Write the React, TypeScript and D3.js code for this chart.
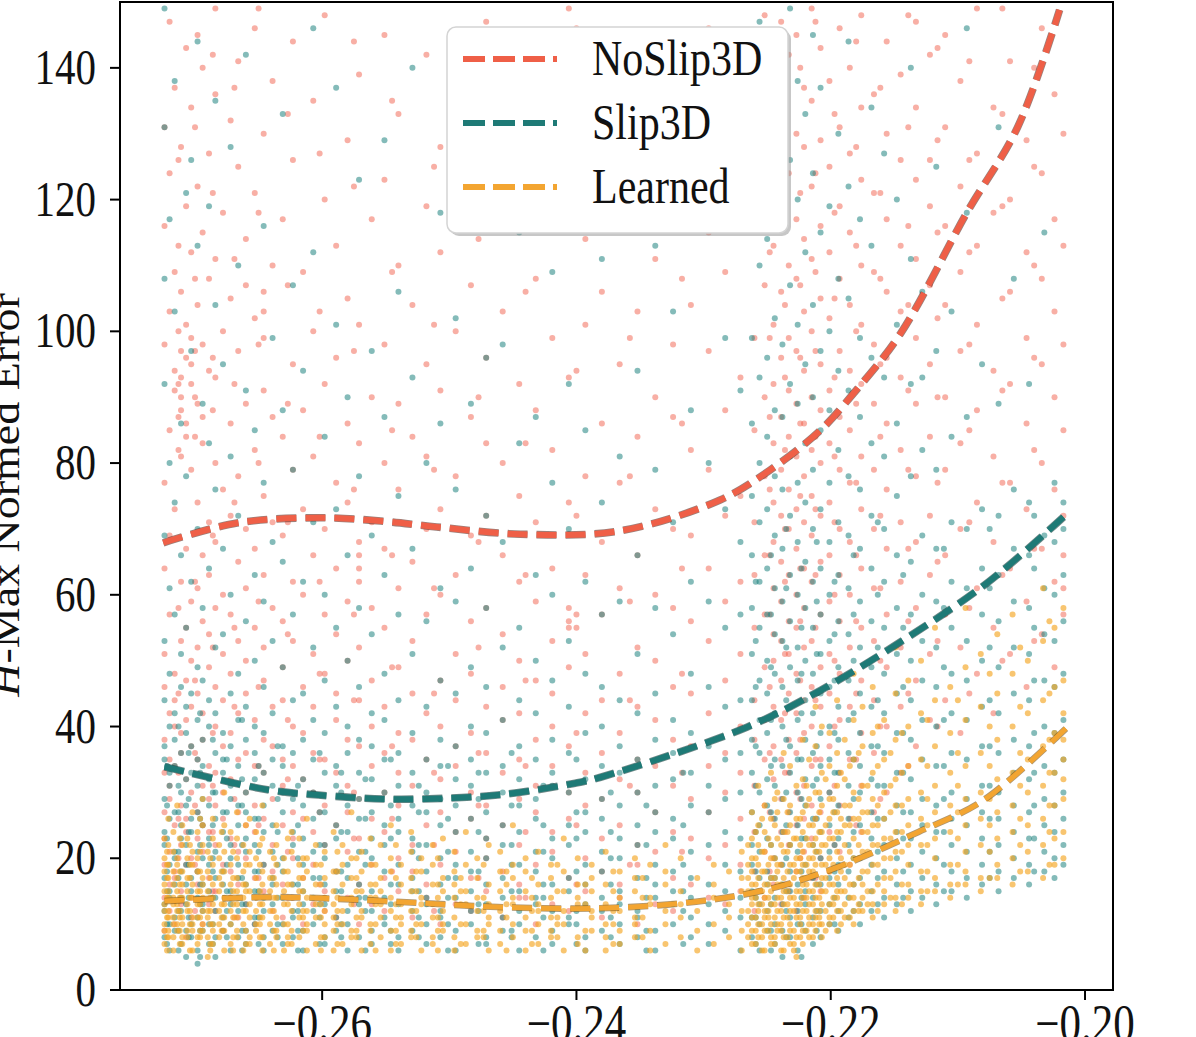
import * as d3 from 'd3';

// ---- axes / ticks ----
const xDomain: [number, number] = [-0.2759, -0.1978];
const yDomain: [number, number] = [0, 150];
const xTicks = [-0.26, -0.24, -0.22, -0.2];
const xTickLabels = ['\u22120.26', '\u22120.24', '\u22120.22', '\u22120.20'];
const yTicks = [0, 20, 40, 60, 80, 100, 120, 140];

// ---- polynomial fit curves ----
const noSlipFitX = [-0.2725, -0.2667, -0.2602, -0.2554, -0.251, -0.2444, -0.2366, -0.2287, -0.2248, -0.2208, -0.2182, -0.2145, -0.2093, -0.2053, -0.202];
const noSlipFitY = [67.9, 70.9, 71.7, 71.2, 70.3, 69.2, 69.7, 74.4, 78.9, 85.0, 90.6, 99.7, 118, 131, 148.8];
const slipFitX = [-0.2724, -0.2643, -0.2603, -0.2552, -0.2522, -0.2462, -0.2401, -0.2381, -0.2266, -0.2208, -0.2143, -0.2077, -0.2017];
const slipFitY = [33.9, 30.4, 29.6, 29.0, 29.0, 29.6, 31.4, 32.3, 39.9, 45.5, 53.1, 61.8, 71.8];
const learnedFitX = [-0.2724, -0.2643, -0.2583, -0.2522, -0.2462, -0.2383, -0.2306, -0.2249, -0.2194, -0.2131, -0.208, -0.2014];
const learnedFitY = [13.5, 14.1, 13.8, 13.2, 12.6, 12.4, 13.4, 15.3, 18.7, 24.0, 28.8, 39.9];

// ---- scatter points: [x, y values at that x] ----
const noSlipPts: [number, number[]][] = [
  [-0.2724, [9, 14, 19, 23, 27, 33, 38, 46, 51, 64, 77, 98, 116, 131]],
  [-0.272, [12, 16, 21, 29, 31, 35, 42, 57, 69, 85, 103, 124, 147]],
  [-0.2716, [10, 17, 18, 25, 34, 40, 44, 48, 73, 91, 94, 109, 137]],
  [-0.2713, [20, 26, 33, 45, 58, 82, 87, 92, 100, 113, 126]],
  [-0.2711, [13, 15, 22, 28, 36, 39, 53, 62, 81, 88, 90, 93, 97, 106, 128]],
  [-0.2707, [8, 19, 24, 26, 32, 41, 47, 55, 67, 84, 86, 96, 101, 119, 143]],
  [-0.2703, [11, 14, 20, 30, 37, 43, 50, 59, 79, 92, 95, 99, 112, 134]],
  [-0.27, [12, 19, 28, 36, 47, 62, 84, 90, 97, 108, 131]],
  [-0.2698, [16, 18, 23, 27, 35, 45, 52, 61, 74, 89, 104, 122, 145]],
  [-0.2694, [10, 21, 25, 31, 38, 42, 56, 66, 83, 87, 98, 115, 140]],
  [-0.2689, [13, 17, 24, 29, 34, 49, 54, 63, 71, 94, 108, 127]],
  [-0.2686, [15, 24, 31, 39, 52, 69, 88, 96, 121, 142]],
  [-0.2684, [12, 15, 22, 28, 33, 40, 46, 58, 68, 80, 93, 111, 136, 149]],
  [-0.2678, [9, 19, 26, 30, 37, 44, 51, 60, 76, 100, 118]],
  [-0.2672, [14, 18, 23, 32, 39, 48, 57, 72, 86, 105, 132]],
  [-0.2669, [11, 22, 29, 43, 55, 74, 92, 111, 137]],
  [-0.2666, [11, 16, 21, 27, 35, 42, 53, 65, 78, 97, 125, 141]],
  [-0.266, [13, 20, 25, 30, 36, 45, 50, 61, 70, 89, 107, 114]],
  [-0.2653, [10, 17, 24, 28, 34, 41, 55, 67, 82, 102, 121, 146]],
  [-0.265, [17, 25, 34, 46, 59, 80, 98, 118, 149]],
  [-0.2646, [15, 19, 26, 33, 38, 47, 52, 63, 75, 91, 99, 103, 106, 130]],
  [-0.2639, [12, 18, 22, 29, 37, 43, 58, 71, 87, 110, 138]],
  [-0.2631, [11, 16, 25, 31, 35, 44, 49, 56, 69, 84, 117]],
  [-0.2627, [14, 21, 32, 41, 54, 71, 89, 107, 133]],
  [-0.2623, [14, 20, 23, 27, 34, 40, 53, 62, 79, 95, 126, 144]],
  [-0.2615, [10, 17, 26, 32, 39, 46, 60, 73, 88, 109]],
  [-0.2607, [13, 19, 24, 30, 36, 43, 51, 66, 81, 100, 135]],
  [-0.2602, [16, 27, 35, 48, 62, 84, 103, 127]],
  [-0.2598, [12, 15, 22, 28, 35, 48, 57, 70, 92, 120, 148]],
  [-0.2589, [11, 18, 25, 33, 41, 45, 54, 64, 77, 96, 113]],
  [-0.258, [14, 21, 27, 31, 38, 50, 59, 74, 86, 105, 129]],
  [-0.2575, [13, 23, 30, 44, 57, 76, 97, 122, 144]],
  [-0.2571, [10, 16, 23, 29, 37, 44, 52, 62, 64, 66, 68, 83, 101, 139]],
  [-0.2561, [13, 19, 26, 34, 40, 47, 58, 71, 90, 117]],
  [-0.2551, [12, 17, 24, 30, 36, 43, 55, 67, 80, 98, 123, 145]],
  [-0.2545, [18, 26, 37, 49, 66, 85, 109, 135]],
  [-0.254, [15, 20, 28, 33, 39, 49, 61, 76, 89, 110, 133]],
  [-0.2529, [11, 18, 22, 31, 38, 45, 53, 65, 84, 104]],
  [-0.2518, [14, 16, 25, 29, 35, 42, 57, 70, 81, 95, 119, 142]],
  [-0.2512, [12, 22, 33, 45, 61, 79, 101, 125]],
  [-0.2507, [10, 19, 27, 32, 40, 47, 60, 73, 91, 112, 128]],
  [-0.2495, [13, 21, 24, 34, 37, 44, 51, 63, 78, 100, 137]],
  [-0.2483, [12, 17, 26, 30, 39, 48, 56, 69, 87, 107, 125]],
  [-0.2477, [17, 28, 36, 52, 68, 90, 114, 139]],
  [-0.2471, [15, 20, 23, 28, 36, 43, 58, 72, 83, 96, 116, 147]],
  [-0.2458, [11, 18, 25, 33, 41, 46, 54, 66, 80, 103, 131]],
  [-0.2445, [14, 16, 22, 29, 35, 42, 50, 62, 75, 92, 121]],
  [-0.244, [14, 24, 34, 47, 63, 83, 106, 130]],
  [-0.2432, [10, 19, 27, 31, 38, 47, 59, 71, 88, 108, 140]],
  [-0.2419, [13, 21, 24, 34, 40, 45, 53, 64, 82, 99, 118]],
  [-0.2406, [12, 17, 26, 30, 37, 49, 55, 56, 58, 74, 93, 127, 149]],
  [-0.24, [16, 25, 39, 55, 57, 72, 94, 119, 146]],
  [-0.2393, [15, 20, 28, 33, 42, 51, 63, 78, 101, 114]],
  [-0.238, [11, 18, 23, 29, 36, 44, 57, 68, 86, 106, 134]],
  [-0.2366, [14, 16, 25, 32, 39, 48, 61, 77, 95, 120]],
  [-0.2358, [19, 31, 44, 59, 78, 99, 123]],
  [-0.2352, [10, 19, 22, 30, 35, 43, 52, 66, 84, 103, 143]],
  [-0.2338, [13, 21, 27, 34, 41, 50, 60, 73, 90, 111, 129]],
  [-0.2324, [12, 17, 24, 31, 38, 46, 58, 70, 87, 98, 124]],
  [-0.2317, [21, 33, 48, 64, 86, 108, 134]],
  [-0.231, [16, 23, 29, 37, 45, 56, 69, 82, 104, 138]],
  [-0.2296, [14, 20, 27, 34, 42, 53, 64, 79, 97, 115, 146]],
  [-0.2283, [13, 22, 30, 36, 47, 59, 72, 88, 109, 132]],
  [-0.2271, [15, 19, 26, 33, 40, 51, 62, 75, 93, 122, 141]],
  [-0.226, [12, 18, 24, 31, 38, 44, 55, 63, 71, 85, 99, 118, 136]],
  [-0.2252, [14, 21, 28, 35, 41, 49, 57, 66, 78, 90, 107, 127, 148]],
  [-0.2248, [18, 27, 36, 46, 57, 66, 76, 87, 99, 112, 128, 145]],
  [-0.2245, [16, 20, 26, 32, 37, 43, 50, 54, 61, 68, 74, 83, 92, 101, 113, 126, 139]],
  [-0.2239, [13, 19, 24, 29, 35, 41, 47, 53, 59, 65, 72, 79, 87, 96, 106, 120, 133, 147]],
  [-0.2236, [16, 24, 33, 42, 51, 62, 70, 82, 93, 104, 118, 134]],
  [-0.2233, [15, 22, 27, 33, 38, 45, 51, 56, 63, 70, 76, 84, 91, 99, 110, 124, 142]],
  [-0.2227, [12, 18, 25, 30, 36, 42, 48, 55, 60, 67, 73, 81, 89, 97, 108, 117, 130, 145]],
  [-0.2224, [20, 29, 38, 47, 56, 64, 75, 86, 96, 107, 121, 140]],
  [-0.2221, [14, 21, 26, 31, 39, 44, 52, 58, 64, 71, 78, 86, 94, 103, 114, 128, 137]],
  [-0.2215, [17, 23, 28, 34, 40, 46, 53, 62, 69, 75, 82, 90, 100, 111, 122, 135, 149]],
  [-0.2212, [17, 26, 35, 44, 55, 63, 73, 84, 97, 109, 124, 147]],
  [-0.2208, [15, 20, 27, 35, 43, 49, 57, 65, 72, 80, 88, 95, 105, 116, 129, 143]],
  [-0.2201, [18, 24, 30, 37, 45, 51, 59, 66, 74, 83, 91, 102, 112, 125, 138]],
  [-0.2197, [22, 31, 40, 50, 60, 71, 81, 93, 105, 118, 133]],
  [-0.2193, [21, 28, 33, 41, 48, 56, 63, 70, 79, 87, 97, 108, 119, 131, 146]],
  [-0.2185, [19, 26, 35, 43, 52, 60, 68, 77, 85, 94, 104, 115, 127, 140]],
  [-0.218, [25, 35, 45, 56, 66, 77, 89, 100, 113, 128, 144]],
  [-0.2176, [24, 31, 39, 47, 55, 64, 73, 81, 92, 101, 110, 123, 134, 148]],
  [-0.2166, [27, 36, 44, 53, 61, 70, 79, 89, 98, 109, 121, 136]],
  [-0.2161, [29, 40, 50, 61, 72, 84, 95, 108, 121, 137]],
  [-0.2156, [30, 40, 49, 57, 67, 76, 86, 96, 106, 117, 130, 144]],
  [-0.2145, [33, 43, 52, 62, 71, 82, 93, 103, 113, 126, 139]],
  [-0.2139, [34, 45, 56, 67, 79, 91, 104, 116, 131, 148]],
  [-0.2133, [37, 47, 58, 68, 78, 89, 99, 111, 123, 134, 147]],
  [-0.2122, [41, 51, 63, 72, 84, 95, 107, 119, 126, 142]],
  [-0.2116, [40, 53, 65, 77, 90, 102, 115, 129, 143]],
  [-0.211, [44, 57, 66, 79, 90, 104, 116, 131, 145]],
  [-0.2098, [39, 52, 70, 83, 97, 109, 122, 138]],
  [-0.2091, [45, 58, 71, 85, 98, 112, 126, 141]],
  [-0.2085, [48, 61, 74, 88, 101, 113, 127, 149]],
  [-0.2072, [42, 55, 68, 81, 94, 118, 134]],
  [-0.2065, [50, 63, 77, 91, 105, 119, 133, 149]],
  [-0.2059, [51, 64, 77, 92, 106, 120, 141]],
  [-0.2046, [46, 59, 73, 86, 99, 112, 129]],
  [-0.204, [53, 67, 82, 96, 110, 125, 140]],
  [-0.2034, [54, 67, 80, 95, 108, 124, 146]],
  [-0.2024, [49, 62, 76, 90, 103, 117, 136]],
  [-0.2017, [57, 61, 66, 72, 85, 98, 113, 130]],
];

const slipPts: [number, number[]][] = [
  [-0.2724, [8, 12, 13, 17, 22, 24, 29, 35, 37, 44, 53, 69, 92, 108, 131, 149]],
  [-0.2722, [7, 10, 15, 18, 23, 28, 34]],
  [-0.272, [6, 10, 14, 15, 19, 26, 31, 33, 40, 48, 61, 80, 117]],
  [-0.2716, [9, 11, 16, 20, 21, 27, 34, 38, 42, 57, 74, 103, 138]],
  [-0.2713, [6, 9, 12, 17, 21, 27, 31, 40]],
  [-0.2711, [7, 12, 14, 18, 23, 25, 30, 36, 46, 51, 66, 86]],
  [-0.2707, [5, 9, 13, 16, 19, 22, 28, 32, 39, 43, 55, 78, 121]],
  [-0.2705, [8, 11, 14, 19, 24, 29, 36]],
  [-0.2703, [8, 10, 15, 17, 24, 26, 33, 37, 45, 62, 97, 126]],
  [-0.2698, [4, 6, 11, 14, 18, 21, 27, 31, 35, 41, 49, 70, 113, 144]],
  [-0.2696, [5, 9, 13, 16, 22, 26, 33, 42]],
  [-0.2694, [9, 12, 13, 16, 20, 25, 29, 34, 38, 47, 58, 89]],
  [-0.2689, [7, 10, 15, 19, 22, 23, 28, 32, 40, 44, 64, 83, 119]],
  [-0.2686, [7, 10, 14, 18, 20, 25, 30, 38]],
  [-0.2684, [5, 8, 12, 14, 17, 21, 26, 30, 36, 42, 52, 76, 104, 135]],
  [-0.2678, [9, 11, 16, 18, 24, 27, 33, 35, 39, 54, 67, 95]],
  [-0.2675, [8, 12, 15, 19, 23, 27, 35]],
  [-0.2672, [6, 10, 13, 15, 20, 22, 29, 31, 37, 45, 60, 81, 128]],
  [-0.2666, [8, 12, 14, 17, 19, 25, 28, 34, 41, 48, 72, 110]],
  [-0.2663, [6, 9, 13, 17, 22, 28, 32, 41]],
  [-0.266, [7, 9, 13, 16, 21, 23, 27, 30, 38, 43, 56, 91, 142]],
  [-0.2653, [10, 11, 15, 18, 22, 26, 32, 36, 40, 50, 63, 85]],
  [-0.265, [7, 11, 15, 18, 21, 26, 34]],
  [-0.2646, [6, 8, 12, 14, 19, 24, 28, 33, 39, 46, 59, 77, 116]],
  [-0.2639, [9, 13, 16, 17, 21, 25, 31, 35, 42, 53, 68, 99]],
  [-0.2635, [8, 10, 14, 19, 24, 29, 37]],
  [-0.2631, [7, 10, 14, 18, 20, 27, 30, 34, 37, 49, 65, 88, 133]],
  [-0.2623, [8, 11, 12, 16, 22, 24, 29, 36, 44, 57, 79, 107]],
  [-0.2619, [6, 9, 12, 16, 20, 25, 31]],
  [-0.2615, [6, 9, 13, 15, 19, 23, 28, 32, 38, 45, 62, 94]],
  [-0.2607, [10, 12, 14, 17, 21, 26, 30, 35, 41, 52, 71, 112, 146]],
  [-0.2602, [7, 11, 13, 17, 22, 27, 36]],
  [-0.2598, [7, 8, 13, 16, 20, 22, 27, 33, 39, 47, 60, 84]],
  [-0.2589, [9, 11, 15, 18, 23, 25, 31, 34, 43, 55, 73, 101, 137]],
  [-0.2585, [8, 10, 15, 18, 24, 30, 33]],
  [-0.258, [6, 10, 12, 17, 19, 24, 28, 36, 40, 50, 66, 90]],
  [-0.2571, [8, 13, 14, 16, 21, 26, 29, 33, 38, 46, 58, 78, 123]],
  [-0.2566, [6, 12, 14, 19, 21, 26, 32]],
  [-0.2561, [7, 9, 12, 15, 20, 23, 27, 32, 37, 42, 54, 69, 97]],
  [-0.2551, [10, 11, 14, 18, 22, 25, 30, 35, 41, 48, 63, 87, 129]],
  [-0.2546, [7, 9, 13, 16, 23, 28, 35]],
  [-0.254, [6, 8, 13, 16, 19, 24, 26, 31, 36, 44, 57, 75, 106]],
  [-0.2529, [9, 12, 15, 17, 21, 23, 28, 33, 39, 51, 67, 93, 140]],
  [-0.2524, [8, 11, 15, 20, 22, 27, 31]],
  [-0.2518, [7, 10, 13, 14, 18, 22, 27, 30, 35, 43, 56, 80]],
  [-0.2507, [8, 11, 12, 16, 20, 25, 29, 34, 38, 47, 61, 86, 118]],
  [-0.2501, [6, 10, 14, 17, 21, 26, 34]],
  [-0.2495, [6, 9, 14, 17, 19, 24, 28, 32, 37, 45, 59, 76, 102]],
  [-0.2483, [10, 12, 15, 18, 21, 26, 31, 35, 40, 49, 64, 89, 127]],
  [-0.2477, [7, 12, 13, 18, 24, 29, 33]],
  [-0.2471, [7, 8, 13, 16, 20, 23, 27, 33, 39, 46, 58, 72, 96]],
  [-0.2458, [9, 11, 14, 17, 22, 25, 30, 34, 41, 52, 68, 98, 141]],
  [-0.2451, [8, 9, 15, 19, 22, 28, 36]],
  [-0.2445, [6, 10, 12, 15, 19, 24, 28, 32, 37, 44, 55, 83, 115]],
  [-0.2432, [8, 13, 14, 18, 21, 26, 29, 35, 42, 50, 63, 87]],
  [-0.2426, [6, 11, 14, 16, 21, 25, 31]],
  [-0.2419, [7, 9, 12, 16, 20, 23, 31, 33, 38, 47, 60, 77, 109]],
  [-0.2406, [10, 11, 15, 17, 22, 25, 30, 36, 43, 53, 70, 92, 134]],
  [-0.24, [7, 10, 12, 18, 23, 27, 35]],
  [-0.2393, [6, 8, 13, 16, 19, 24, 27, 32, 39, 48, 62, 85]],
  [-0.238, [9, 12, 14, 18, 21, 26, 29, 34, 40, 46, 57, 74, 111]],
  [-0.2373, [8, 11, 16, 20, 24, 30]],
  [-0.2366, [7, 10, 13, 15, 20, 23, 28, 33, 37, 44, 59, 81, 125]],
  [-0.2352, [8, 11, 12, 17, 22, 25, 30, 35, 42, 51, 66, 94]],
  [-0.2345, [6, 9, 14, 17, 22, 28]],
  [-0.2338, [6, 9, 14, 16, 19, 24, 27, 31, 38, 45, 58, 79, 113]],
  [-0.2324, [10, 13, 15, 18, 23, 26, 32, 36, 41, 54, 71, 103]],
  [-0.2316, [7, 12, 15, 19, 25, 33]],
  [-0.231, [8, 11, 14, 17, 21, 28, 33, 39, 48, 62, 88, 132]],
  [-0.2296, [7, 10, 13, 16, 22, 27, 31, 37, 46, 59, 80]],
  [-0.2283, [9, 12, 15, 19, 24, 29, 35, 43, 55, 73, 99, 136]],
  [-0.2271, [6, 11, 14, 18, 23, 30, 36, 44, 57, 68, 91]],
  [-0.2262, [8, 11, 15, 19, 22, 27, 33, 38, 44, 51, 58, 66, 75, 86, 99, 118, 139]],
  [-0.2259, [7, 11, 14, 18, 24, 31, 37, 46, 53, 62]],
  [-0.2256, [6, 10, 13, 17, 21, 25, 30, 36, 41, 47, 55, 62, 71, 80, 93, 110, 128, 147]],
  [-0.225, [9, 12, 16, 18, 23, 28, 32, 39, 45, 50, 57, 64, 73, 84, 96, 114, 135]],
  [-0.2247, [6, 9, 13, 17, 22, 27, 34, 41, 49, 57, 66]],
  [-0.2244, [7, 10, 14, 17, 20, 26, 31, 35, 42, 48, 54, 61, 69, 78, 88, 102, 121, 143]],
  [-0.2238, [5, 9, 13, 16, 19, 24, 29, 34, 40, 46, 53, 59, 67, 76, 87, 98, 116, 131]],
  [-0.2235, [8, 12, 15, 20, 25, 30, 38, 44, 52, 61, 70]],
  [-0.2232, [8, 11, 15, 18, 22, 27, 33, 37, 43, 49, 56, 63, 72, 81, 92, 107, 126, 149]],
  [-0.2226, [6, 10, 12, 16, 21, 25, 30, 35, 41, 47, 52, 60, 68, 77, 89, 101, 120, 138]],
  [-0.2223, [5, 10, 14, 18, 23, 29, 35, 42, 48, 55, 64]],
  [-0.222, [9, 13, 15, 19, 23, 28, 32, 38, 44, 50, 58, 65, 74, 83, 95, 112, 133]],
  [-0.2214, [7, 11, 14, 17, 22, 26, 31, 36, 42, 48, 55, 62, 70, 79, 90, 104, 124, 145]],
  [-0.2211, [9, 12, 16, 21, 26, 32, 37, 45, 51, 59, 68]],
  [-0.2208, [8, 12, 16, 20, 24, 29, 34, 39, 45, 51, 57, 64, 73, 85, 97, 115, 137]],
  [-0.2201, [10, 13, 17, 21, 25, 30, 35, 40, 46, 53, 60, 68, 77, 88, 100, 119]],
  [-0.2197, [10, 14, 18, 22, 27, 33, 39, 47, 54, 62]],
  [-0.2194, [9, 12, 16, 19, 23, 28, 33, 38, 43, 49, 56, 63, 71, 82, 94, 108, 130]],
  [-0.2186, [11, 14, 18, 22, 26, 31, 36, 41, 47, 54, 61, 69, 78, 91, 105, 122, 144]],
  [-0.2182, [12, 16, 20, 24, 29, 35, 42, 50, 57, 66]],
  [-0.2177, [10, 13, 17, 20, 25, 30, 34, 39, 45, 52, 59, 67, 76, 87, 99, 117]],
  [-0.2168, [12, 15, 19, 23, 27, 32, 37, 43, 49, 56, 64, 72, 83, 96, 113, 134]],
  [-0.2163, [13, 17, 21, 26, 31, 37, 44, 52, 60, 71]],
  [-0.2158, [11, 14, 18, 22, 26, 31, 36, 42, 48, 55, 62, 70, 81, 93, 127]],
  [-0.2148, [13, 16, 20, 24, 28, 33, 39, 45, 51, 58, 66, 75, 86, 101, 120]],
  [-0.2143, [14, 18, 23, 27, 33, 39, 46, 55, 63]],
  [-0.2137, [12, 15, 19, 23, 27, 32, 38, 44, 50, 57, 65, 78, 92, 111, 140]],
  [-0.2128, [14, 17, 21, 25, 29, 35, 41, 47, 53, 60, 69, 82, 93, 106]],
  [-0.2117, [13, 16, 20, 24, 28, 34, 40, 46, 52, 59, 67, 79, 97, 125]],
  [-0.2111, [15, 19, 24, 29, 34, 41, 49, 58, 67]],
  [-0.2105, [15, 18, 22, 26, 30, 36, 42, 48, 55, 62, 71, 84, 103]],
  [-0.2093, [14, 17, 21, 25, 29, 35, 41, 47, 53, 61, 70, 87, 118, 146]],
  [-0.2081, [16, 19, 23, 27, 31, 37, 43, 50, 57, 64, 73, 95]],
  [-0.2075, [17, 21, 26, 31, 37, 44, 52, 61, 70]],
  [-0.2068, [15, 18, 22, 26, 30, 36, 42, 49, 56, 63, 72, 89, 131]],
  [-0.2056, [17, 20, 24, 28, 33, 38, 45, 52, 59, 67, 76, 108]],
  [-0.2044, [16, 19, 23, 27, 32, 37, 44, 51, 58, 66, 74, 92]],
  [-0.204, [18, 23, 28, 33, 39, 47, 55, 64, 72]],
  [-0.2032, [18, 21, 25, 29, 34, 40, 47, 54, 61, 69, 115]],
  [-0.2024, [17, 20, 24, 28, 33, 39, 46, 53, 60, 68, 77]],
  [-0.2017, [19, 22, 26, 30, 35, 41, 48, 56, 63, 70, 74]],
];

const learnedPts: [number, number[]][] = [
  [-0.2724, [7, 9, 10, 12, 13, 15, 16, 18, 20, 23]],
  [-0.2722, [6, 8, 11, 14, 17, 19, 21]],
  [-0.2721, [8, 9, 11, 12, 14, 15, 17, 19, 22, 26]],
  [-0.2717, [6, 8, 10, 11, 13, 14, 16, 18, 21, 24]],
  [-0.2714, [9, 10, 12, 13, 15, 17, 19, 20, 28]],
  [-0.2712, [7, 9, 11, 12, 14, 16, 18, 23]],
  [-0.271, [7, 8, 10, 11, 14, 16, 18, 22, 25]],
  [-0.2706, [8, 9, 12, 13, 15, 17, 20, 23]],
  [-0.2704, [6, 10, 12, 14, 17, 19, 22]],
  [-0.2702, [6, 9, 10, 11, 14, 16, 19, 21, 27]],
  [-0.2698, [7, 8, 11, 13, 15, 18, 20, 24]],
  [-0.2696, [8, 9, 11, 13, 15, 18, 21, 26]],
  [-0.2694, [9, 10, 12, 14, 16, 17, 22, 25, 29]],
  [-0.269, [5, 8, 11, 12, 15, 18, 21]],
  [-0.2688, [6, 7, 10, 12, 14, 17, 20]],
  [-0.2686, [7, 9, 10, 13, 14, 16, 19, 23, 26]],
  [-0.2681, [8, 10, 12, 15, 17, 20, 22]],
  [-0.2679, [9, 11, 13, 16, 18, 24]],
  [-0.2677, [6, 9, 11, 13, 14, 18, 21, 25, 30]],
  [-0.2672, [7, 10, 12, 14, 16, 19, 24]],
  [-0.267, [6, 8, 11, 13, 15, 17, 21]],
  [-0.2667, [8, 9, 11, 13, 15, 17, 20, 23, 27]],
  [-0.2662, [6, 10, 12, 14, 16, 18, 22]],
  [-0.266, [7, 9, 12, 15, 16, 19, 25]],
  [-0.2657, [7, 8, 11, 13, 15, 19, 21, 26]],
  [-0.2652, [9, 10, 12, 14, 17, 20, 24]],
  [-0.2649, [8, 10, 11, 13, 15, 19, 22]],
  [-0.2647, [6, 8, 11, 13, 16, 18, 23, 28]],
  [-0.2641, [7, 10, 12, 15, 17, 21]],
  [-0.2638, [6, 9, 12, 14, 17, 20]],
  [-0.2636, [8, 9, 11, 14, 16, 19, 22, 25]],
  [-0.263, [6, 10, 13, 15, 18, 20]],
  [-0.2627, [7, 8, 10, 13, 16, 18, 23]],
  [-0.2624, [7, 9, 12, 14, 16, 21, 24]],
  [-0.2618, [8, 11, 13, 15, 17, 19, 23]],
  [-0.2615, [9, 11, 12, 15, 17, 20]],
  [-0.2612, [6, 9, 10, 12, 14, 18, 20, 26]],
  [-0.2605, [7, 11, 13, 16, 19, 22]],
  [-0.2601, [6, 8, 11, 13, 16, 19]],
  [-0.2598, [8, 10, 12, 14, 17, 21]],
  [-0.2591, [6, 9, 11, 13, 15, 18, 24]],
  [-0.2588, [7, 10, 12, 14, 18, 21]],
  [-0.2584, [7, 10, 12, 16, 19, 22]],
  [-0.2577, [8, 9, 13, 14, 17, 20, 27]],
  [-0.2573, [8, 9, 11, 15, 17, 20]],
  [-0.2569, [6, 11, 12, 15, 18, 21]],
  [-0.2562, [7, 9, 10, 14, 16, 19, 23]],
  [-0.2558, [6, 10, 13, 14, 16, 19]],
  [-0.2554, [8, 11, 13, 15, 17, 22]],
  [-0.2546, [6, 9, 12, 14, 18, 20, 25]],
  [-0.2542, [7, 9, 11, 13, 17, 22]],
  [-0.2538, [7, 10, 11, 13, 16, 19]],
  [-0.253, [8, 9, 12, 15, 17, 21, 24]],
  [-0.2526, [8, 10, 12, 15, 18]],
  [-0.2522, [6, 10, 13, 14, 18, 20]],
  [-0.2513, [7, 8, 11, 13, 16, 19, 22]],
  [-0.2509, [6, 9, 11, 14, 16, 20]],
  [-0.2505, [9, 10, 12, 15, 17, 23]],
  [-0.2496, [6, 8, 11, 14, 16, 18, 21]],
  [-0.2491, [7, 10, 13, 15, 17]],
  [-0.2487, [7, 10, 13, 15, 19, 24]],
  [-0.2478, [8, 9, 12, 14, 17, 20]],
  [-0.2473, [8, 9, 12, 14, 19]],
  [-0.2469, [6, 10, 11, 13, 16, 22]],
  [-0.246, [7, 9, 12, 15, 18, 21]],
  [-0.2455, [6, 11, 13, 16, 18]],
  [-0.245, [8, 10, 13, 14, 17, 19, 25]],
  [-0.244, [6, 9, 11, 15, 18, 20]],
  [-0.2435, [7, 9, 12, 14, 17]],
  [-0.243, [7, 10, 12, 13, 16, 21]],
  [-0.242, [8, 9, 11, 14, 17, 19]],
  [-0.2415, [8, 10, 11, 15, 19]],
  [-0.241, [6, 10, 12, 15, 18, 23]],
  [-0.2399, [7, 8, 13, 14, 16, 20]],
  [-0.2393, [6, 9, 13, 16]],
  [-0.2388, [9, 11, 12, 15, 17, 19]],
  [-0.2377, [6, 8, 10, 13, 16, 21]],
  [-0.2371, [7, 10, 12, 15, 18]],
  [-0.2366, [7, 9, 12, 14, 18]],
  [-0.2354, [8, 10, 11, 15, 17, 20]],
  [-0.2348, [8, 11, 14, 17]],
  [-0.2342, [6, 9, 13, 14, 19]],
  [-0.233, [7, 10, 12, 16, 18, 22]],
  [-0.2318, [8, 11, 13, 15, 20]],
  [-0.2305, [6, 9, 12, 17]],
  [-0.2292, [7, 10, 14, 16, 19]],
  [-0.228, [8, 11, 13, 18]],
  [-0.227, [6, 9, 12, 15, 17, 21]],
  [-0.2265, [8, 10, 12, 15, 17, 19, 22]],
  [-0.2262, [7, 9, 11, 13, 14, 16, 18, 20, 23, 27]],
  [-0.2259, [7, 9, 11, 14, 16, 20, 24]],
  [-0.2257, [8, 10, 12, 13, 15, 17, 19, 22, 25, 31]],
  [-0.2254, [6, 8, 10, 13, 15, 18, 21, 26]],
  [-0.2252, [6, 9, 11, 12, 14, 16, 18, 21, 24, 28]],
  [-0.2249, [9, 11, 12, 14, 16, 19, 23]],
  [-0.2247, [7, 8, 10, 13, 15, 17, 20, 22, 26, 33]],
  [-0.2244, [7, 8, 11, 13, 17, 20, 25, 29]],
  [-0.2242, [9, 10, 12, 14, 16, 18, 19, 23, 27, 30]],
  [-0.2239, [6, 9, 10, 12, 14, 16, 19, 22]],
  [-0.2237, [6, 8, 11, 13, 15, 17, 21, 24, 29, 36]],
  [-0.2234, [8, 11, 13, 15, 18, 21, 24, 27]],
  [-0.2232, [7, 9, 10, 12, 14, 16, 19, 22, 25, 28, 34]],
  [-0.2229, [6, 7, 9, 12, 14, 17, 19, 23]],
  [-0.2227, [5, 8, 11, 13, 15, 18, 20, 23, 26, 31]],
  [-0.2224, [8, 10, 11, 13, 15, 18, 20, 22, 26]],
  [-0.2222, [7, 9, 12, 14, 16, 17, 19, 21, 24, 27, 32, 38]],
  [-0.2219, [9, 12, 14, 16, 17, 19, 23, 28, 31]],
  [-0.2217, [8, 10, 11, 13, 15, 18, 20, 22, 25, 29, 35]],
  [-0.2214, [8, 10, 13, 15, 18, 20, 22, 25]],
  [-0.2212, [9, 11, 12, 14, 16, 19, 21, 23, 26, 30, 37, 43]],
  [-0.2209, [10, 11, 12, 14, 16, 21, 24, 27, 30]],
  [-0.2207, [8, 10, 13, 15, 17, 19, 22, 24, 28, 33, 40]],
  [-0.2204, [9, 12, 15, 17, 19, 22, 25, 32]],
  [-0.2201, [10, 11, 13, 16, 18, 20, 23, 26, 29, 34, 39]],
  [-0.2198, [11, 13, 14, 16, 19, 23, 27, 29]],
  [-0.2195, [9, 12, 14, 15, 17, 21, 24, 27, 31, 36, 44]],
  [-0.2192, [10, 12, 15, 18, 20, 24, 26, 33]],
  [-0.2189, [11, 13, 15, 17, 19, 22, 25, 28, 32, 38]],
  [-0.2185, [11, 14, 16, 19, 21, 25, 28, 34]],
  [-0.2182, [10, 12, 14, 16, 20, 23, 26, 30, 35, 41, 48]],
  [-0.2178, [12, 13, 17, 20, 22, 26, 29, 36]],
  [-0.2175, [12, 14, 16, 18, 21, 24, 27, 31, 37, 43]],
  [-0.2171, [13, 15, 18, 21, 24, 27, 31]],
  [-0.2167, [11, 13, 15, 19, 22, 25, 29, 33, 39, 46]],
  [-0.2163, [12, 16, 19, 22, 25, 28, 34, 40]],
  [-0.2158, [13, 15, 17, 20, 23, 26, 30, 35, 41]],
  [-0.2153, [14, 17, 20, 23, 27, 31, 36]],
  [-0.2149, [12, 14, 18, 21, 24, 28, 32, 38, 45, 52]],
  [-0.2144, [13, 16, 21, 24, 28, 33, 39]],
  [-0.2139, [14, 16, 19, 22, 25, 29, 34, 40, 47]],
  [-0.2129, [13, 15, 18, 22, 26, 30, 35, 42, 50]],
  [-0.2124, [15, 18, 22, 25, 29, 34, 41]],
  [-0.2118, [15, 17, 20, 23, 27, 31, 37, 44, 55]],
  [-0.2106, [14, 16, 19, 24, 28, 33, 39, 46]],
  [-0.21, [16, 19, 23, 27, 31, 36, 44]],
  [-0.2094, [16, 18, 21, 25, 29, 34, 41, 49, 58]],
  [-0.2082, [15, 17, 22, 26, 30, 36, 43, 51]],
  [-0.2075, [17, 21, 25, 29, 34, 40, 48]],
  [-0.2069, [17, 19, 23, 27, 32, 38, 45, 54]],
  [-0.2057, [16, 20, 24, 28, 33, 40, 48, 57]],
  [-0.2051, [18, 22, 26, 31, 36, 43, 52]],
  [-0.2045, [18, 21, 25, 30, 35, 42, 50]],
  [-0.2033, [17, 22, 26, 31, 37, 44, 53, 61]],
  [-0.2028, [19, 24, 28, 33, 38, 45, 56]],
  [-0.2024, [19, 23, 28, 33, 39, 46, 55]],
  [-0.2017, [20, 24, 29, 32, 35, 38, 42, 47, 58]],
];

const seriesNames = ['NoSlip3D', 'Slip3D', 'Learned'];
const lineColors = ['#ef5f47', '#1e7a76', '#f3a531'];
const outlineColors = ['#5a2a20', '#0f3b39', '#7a5010'];
const pointColors = ['#f2604c', '#1f837f', '#f5a623'];
const pointOpacity = [0.5, 0.55, 0.65];

const W = 1196;
const H = 1037;
const plot = { left: 120, right: 1113, top: 2, bottom: 990 };
const FONT = '"Liberation Serif", "DejaVu Serif", serif';
const STRETCH = 1.22;

export default function App() {
  const x = d3.scaleLinear().domain(xDomain).range([plot.left, plot.right]);
  const y = d3.scaleLinear().domain(yDomain).range([plot.bottom, plot.top]);

  const line = d3
    .line<[number, number]>()
    .x((d) => x(d[0]))
    .y((d) => y(d[1]))
    .curve(d3.curveCatmullRom.alpha(0.5));

  const pts = [noSlipPts, slipPts, learnedPts].map((cols) =>
    cols.flatMap(([cx, ys]) => ys.map((v) => [cx, v] as [number, number]))
  );
  const fits = [
    noSlipFitX.map((v, i) => [v, noSlipFitY[i]] as [number, number]),
    slipFitX.map((v, i) => [v, slipFitY[i]] as [number, number]),
    learnedFitX.map((v, i) => [v, learnedFitY[i]] as [number, number]),
  ];
  const widths = [6, 6, 5];

  const legendRows = [59, 123, 187];

  return (
    <svg
      width={W}
      height={H}
      style={{ position: 'absolute', left: 0, top: 0, background: '#fff' }}
      fontFamily={FONT}
    >
      <defs>
        <clipPath id="plotClip">
          <rect x={plot.left} y={plot.top} width={plot.right - plot.left} height={plot.bottom - plot.top} />
        </clipPath>
      </defs>
      <rect width={W} height={H} fill="#fff" />

      <g clipPath="url(#plotClip)">
        {pts.map((series, si) => (
          <g key={si} fill={pointColors[si]} fillOpacity={pointOpacity[si]}>
            {series.map((d, i) => (
              <circle key={i} cx={x(d[0])} cy={y(d[1])} r={3} />
            ))}
          </g>
        ))}
        {fits.map((f, si) => (
          <g key={si}>
            <path d={line(f) ?? ''} fill="none" stroke={outlineColors[si]} strokeOpacity={0.6} strokeWidth={widths[si] + 1.6} strokeDasharray="20 9" />
            <path d={line(f) ?? ''} fill="none" stroke={lineColors[si]} strokeWidth={widths[si]} strokeDasharray="20 9" />
          </g>
        ))}
      </g>

      {/* spines */}
      <rect
        x={plot.left}
        y={plot.top}
        width={plot.right - plot.left}
        height={plot.bottom - plot.top}
        fill="none"
        stroke="#000"
        strokeWidth={2}
      />

      {/* y axis */}
      {yTicks.map((t) => (
        <g key={t}>
          <line x1={plot.left - 10} x2={plot.left} y1={y(t)} y2={y(t)} stroke="#000" strokeWidth={2} />
          <text
            transform={`translate(96,${y(t) + 16}) scale(1,${STRETCH})`}
            textAnchor="end"
            fontSize={41}
            fill="#111"
          >
            {t}
          </text>
        </g>
      ))}

      {/* x axis (labels sit partly below the picture edge, as in the source image) */}
      {xTicks.map((t, i) => (
        <g key={t}>
          <line x1={x(t)} x2={x(t)} y1={plot.bottom} y2={plot.bottom + 10} stroke="#000" strokeWidth={2} />
          <text
            transform={`translate(${x(t)},1041) scale(1,${STRETCH})`}
            textAnchor="middle"
            fontSize={43}
            fill="#111"
          >
            {xTickLabels[i]}
          </text>
        </g>
      ))}

      {/* y label */}
      <text transform="translate(19,495) rotate(-90) scale(1.15,1)" textAnchor="middle" fontSize={40} fill="#111">
        <tspan fontStyle="italic">H</tspan>-Max Normed Error
      </text>

      {/* legend */}
      <g>
        <rect x={450} y={30} width={341} height={206} rx={9} fill="#999" fillOpacity={0.55} />
        <rect x={447} y={27} width={341} height={206} rx={9} fill="#fff" stroke="#d4d4d4" strokeWidth={1.5} />
        {seriesNames.map((name, i) => (
          <g key={name}>
            <line
              x1={463}
              x2={557}
              y1={legendRows[i]}
              y2={legendRows[i]}
              stroke={lineColors[i]}
              strokeWidth={6}
              strokeDasharray="22 8"
            />
            <text
              transform={`translate(592,${legendRows[i] + 16}) scale(1,${STRETCH})`}
              fontSize={42}
              fill="#111"
            >
              {name}
            </text>
          </g>
        ))}
      </g>
    </svg>
  );
}
